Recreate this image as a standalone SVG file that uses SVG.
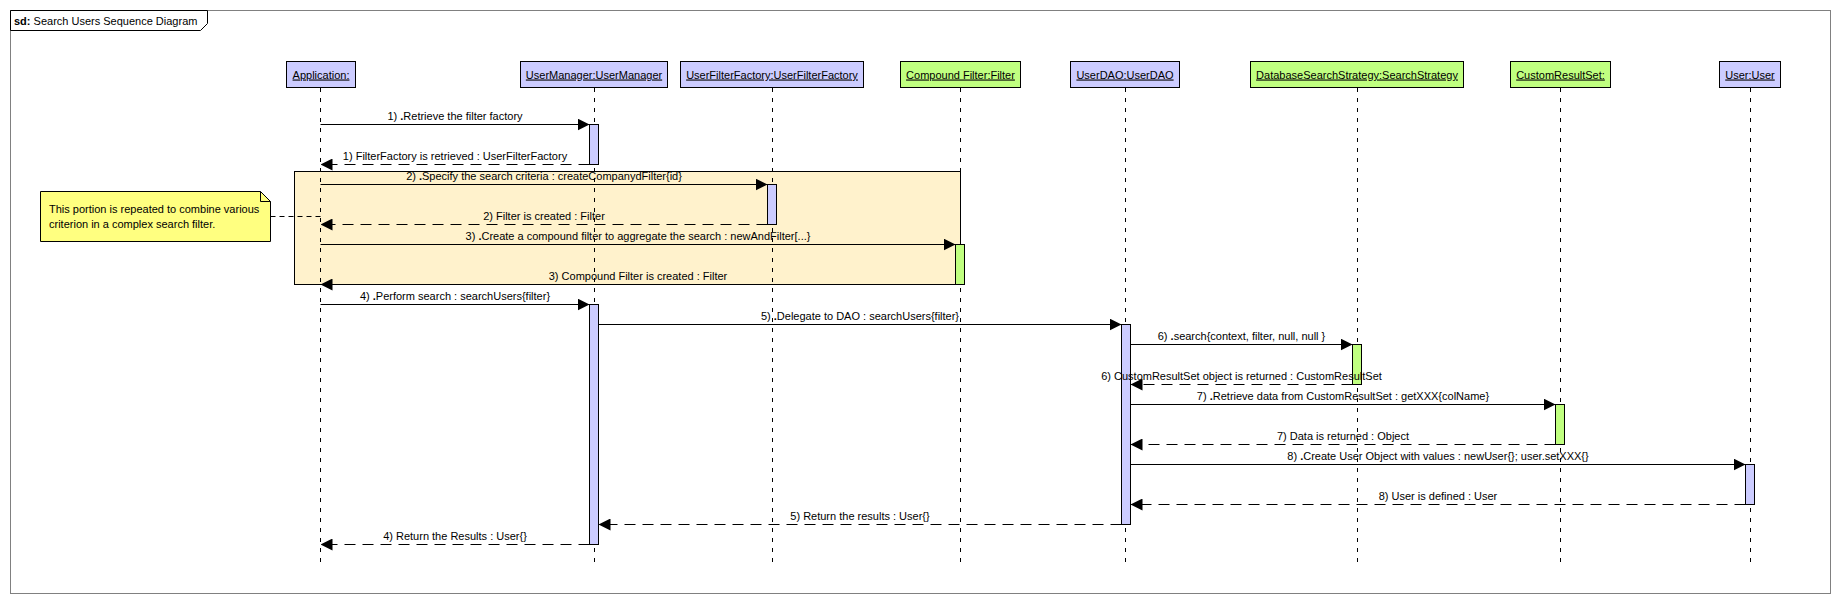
<svg xmlns="http://www.w3.org/2000/svg" width="1840" height="604" viewBox="0 0 1840 604">
<style>
text{font-family:"Liberation Sans",Arial,sans-serif;font-size:11px;fill:#000}
.hdr{text-anchor:middle;text-decoration:underline}
.lbl{text-anchor:middle}
.blue{fill:#CCCCFF;stroke:#000;stroke-width:1}
.green{fill:#C0FF80;stroke:#000;stroke-width:1}
.life{stroke:#000;stroke-width:1;stroke-dasharray:4,6;fill:none}
.call{stroke:#000;stroke-width:1;fill:none;marker-end:url(#arr)}
.ret{stroke:#000;stroke-width:1;fill:none;stroke-dasharray:11,7;marker-end:url(#arr)}
</style>
<defs>
<marker id="arr" viewBox="0 0 12 12" refX="12" refY="6" markerWidth="12" markerHeight="12" markerUnits="userSpaceOnUse" orient="auto">
<path d="M0,0 L12,6 L0,12 Z" fill="#000"/>
</marker>
</defs>
<rect x="0" y="0" width="1840" height="604" fill="#fff"/>
<g id="frame">
<rect x="10.5" y="10.5" width="1820" height="583" fill="#fff" stroke="#808080" stroke-width="1"/>
<path d="M10.5,10.5 H207.5 V23.5 L200.5,30.5 H10.5 Z" fill="#fff" stroke="#000" stroke-width="1"/>
<text x="14" y="25"><tspan font-weight="bold">sd:</tspan> Search Users Sequence Diagram</text>
</g>
<g id="fragment">
<rect x="294.5" y="171.5" width="666" height="113" fill="#FFF2CC" stroke="#000" stroke-width="1"/>
</g>
<g id="lifelines">
<line class="life" x1="320.5" y1="88" x2="320.5" y2="564"/>
<line class="life" x1="594.5" y1="88" x2="594.5" y2="564"/>
<line class="life" x1="772.5" y1="88" x2="772.5" y2="564"/>
<line class="life" x1="960.5" y1="88" x2="960.5" y2="564"/>
<line class="life" x1="1125.5" y1="88" x2="1125.5" y2="564"/>
<line class="life" x1="1357.5" y1="88" x2="1357.5" y2="564"/>
<line class="life" x1="1560.5" y1="88" x2="1560.5" y2="564"/>
<line class="life" x1="1750.5" y1="88" x2="1750.5" y2="564"/>
</g>
<g id="node-application">
<rect class="blue" x="286.5" y="61.5" width="69" height="26"/>
<text class="hdr" x="321" y="78.5">Application:</text>
</g>
<g id="node-usermanager">
<rect class="blue" x="520.5" y="61.5" width="147" height="26"/>
<text class="hdr" x="594" y="78.5">UserManager:UserManager</text>
<rect class="blue" x="589.5" y="124.5" width="9" height="40"/>
<rect class="blue" x="589.5" y="304.5" width="9" height="240"/>
</g>
<g id="node-userfilterfactory">
<rect class="blue" x="680.5" y="61.5" width="183" height="26"/>
<text class="hdr" x="772" y="78.5">UserFilterFactory:UserFilterFactory</text>
<rect class="blue" x="767.5" y="184.5" width="9" height="40"/>
</g>
<g id="node-compoundfilter">
<rect class="green" x="900.5" y="61.5" width="120" height="26"/>
<text class="hdr" x="960.5" y="78.5">Compound Filter:Filter</text>
<rect class="green" x="955.5" y="244.5" width="9" height="40"/>
</g>
<g id="node-userdao">
<rect class="blue" x="1070.5" y="61.5" width="109" height="26"/>
<text class="hdr" x="1125" y="78.5">UserDAO:UserDAO</text>
<rect class="blue" x="1121.5" y="324.5" width="9" height="200"/>
</g>
<g id="node-dbsearchstrategy">
<rect class="green" x="1250.5" y="61.5" width="213" height="26"/>
<text class="hdr" x="1357" y="78.5">DatabaseSearchStrategy:SearchStrategy</text>
<rect class="green" x="1352.5" y="344.5" width="9" height="40"/>
</g>
<g id="node-customresultset">
<rect class="green" x="1510.5" y="61.5" width="100" height="26"/>
<text class="hdr" x="1560.5" y="78.5">CustomResultSet:</text>
<rect class="green" x="1555.5" y="404.5" width="9" height="40"/>
</g>
<g id="node-user">
<rect class="blue" x="1719.5" y="61.5" width="61" height="26"/>
<text class="hdr" x="1750" y="78.5">User:User</text>
<rect class="blue" x="1745.5" y="464.5" width="9" height="40"/>
</g>
<g id="node-note">
<path d="M40.5,191.5 H260.5 L270.5,201.5 V241.5 H40.5 Z" fill="#FFFF80" stroke="#000" stroke-width="1"/>
<path d="M260.5,191.5 V201.5 H270.5" fill="none" stroke="#000" stroke-width="1"/>
<text x="49" y="212.5">This portion is repeated to combine various</text>
<text x="49" y="227.5">criterion in a complex search filter.</text>
</g>
<g id="connectors">
<line x1="270.5" y1="216.5" x2="320.5" y2="216.5" stroke="#000" stroke-width="1" stroke-dasharray="5,4"/>
<line class="call" x1="320.5" y1="124.5" x2="589.5" y2="124.5"/>
<line class="ret" x1="589.5" y1="164.5" x2="320.5" y2="164.5"/>
<line class="call" x1="320.5" y1="184.5" x2="767.5" y2="184.5"/>
<line class="ret" x1="767.5" y1="224.5" x2="320.5" y2="224.5"/>
<line class="call" x1="320.5" y1="244.5" x2="955.5" y2="244.5"/>
<line class="ret" x1="955.5" y1="284.5" x2="320.5" y2="284.5"/>
<line class="call" x1="320.5" y1="304.5" x2="589.5" y2="304.5"/>
<line class="call" x1="598.5" y1="324.5" x2="1121.5" y2="324.5"/>
<line class="call" x1="1130.5" y1="344.5" x2="1352.5" y2="344.5"/>
<line class="ret" x1="1352.5" y1="384.5" x2="1130.5" y2="384.5"/>
<line class="call" x1="1130.5" y1="404.5" x2="1555.5" y2="404.5"/>
<line class="ret" x1="1555.5" y1="444.5" x2="1130.5" y2="444.5"/>
<line class="call" x1="1130.5" y1="464.5" x2="1745.5" y2="464.5"/>
<line class="ret" x1="1745.5" y1="504.5" x2="1130.5" y2="504.5"/>
<line class="ret" x1="1121.5" y1="524.5" x2="598.5" y2="524.5"/>
<line class="ret" x1="589.5" y1="544.5" x2="320.5" y2="544.5"/>
<text class="lbl" x="455" y="119.5">1) <tspan font-weight="bold">.</tspan>Retrieve the filter factory</text>
<text class="lbl" x="455" y="159.5">1) FilterFactory is retrieved : UserFilterFactory</text>
<text class="lbl" x="544" y="179.5">2) <tspan font-weight="bold">.</tspan>Specify the search criteria : createCompanydFilter{id}</text>
<text class="lbl" x="544" y="219.5">2) Filter is created : Filter</text>
<text class="lbl" x="638" y="239.5">3) <tspan font-weight="bold">.</tspan>Create a compound filter to aggregate the search : newAndFilter[...}</text>
<text class="lbl" x="638" y="279.5">3) Compound Filter is created : Filter</text>
<text class="lbl" x="455" y="299.5">4) <tspan font-weight="bold">.</tspan>Perform search : searchUsers{filter}</text>
<text class="lbl" x="860" y="319.5">5) <tspan font-weight="bold">.</tspan>Delegate to DAO : searchUsers{filter}</text>
<text class="lbl" x="1241.5" y="339.5">6) <tspan font-weight="bold">.</tspan>search{context, filter, null, null }</text>
<text class="lbl" x="1241.5" y="379.5">6) CustomResultSet object is returned : CustomResultSet</text>
<text class="lbl" x="1343" y="399.5">7) <tspan font-weight="bold">.</tspan>Retrieve data from CustomResultSet : getXXX{colName}</text>
<text class="lbl" x="1343" y="439.5">7) Data is returned : Object</text>
<text class="lbl" x="1438" y="459.5">8) <tspan font-weight="bold">.</tspan>Create User Object with values : newUser{}; user.setXXX{}</text>
<text class="lbl" x="1438" y="499.5">8) User is defined : User</text>
<text class="lbl" x="860" y="519.5">5) Return the results : User{}</text>
<text class="lbl" x="455" y="539.5">4) Return the Results : User{}</text>
</g>
</svg>
